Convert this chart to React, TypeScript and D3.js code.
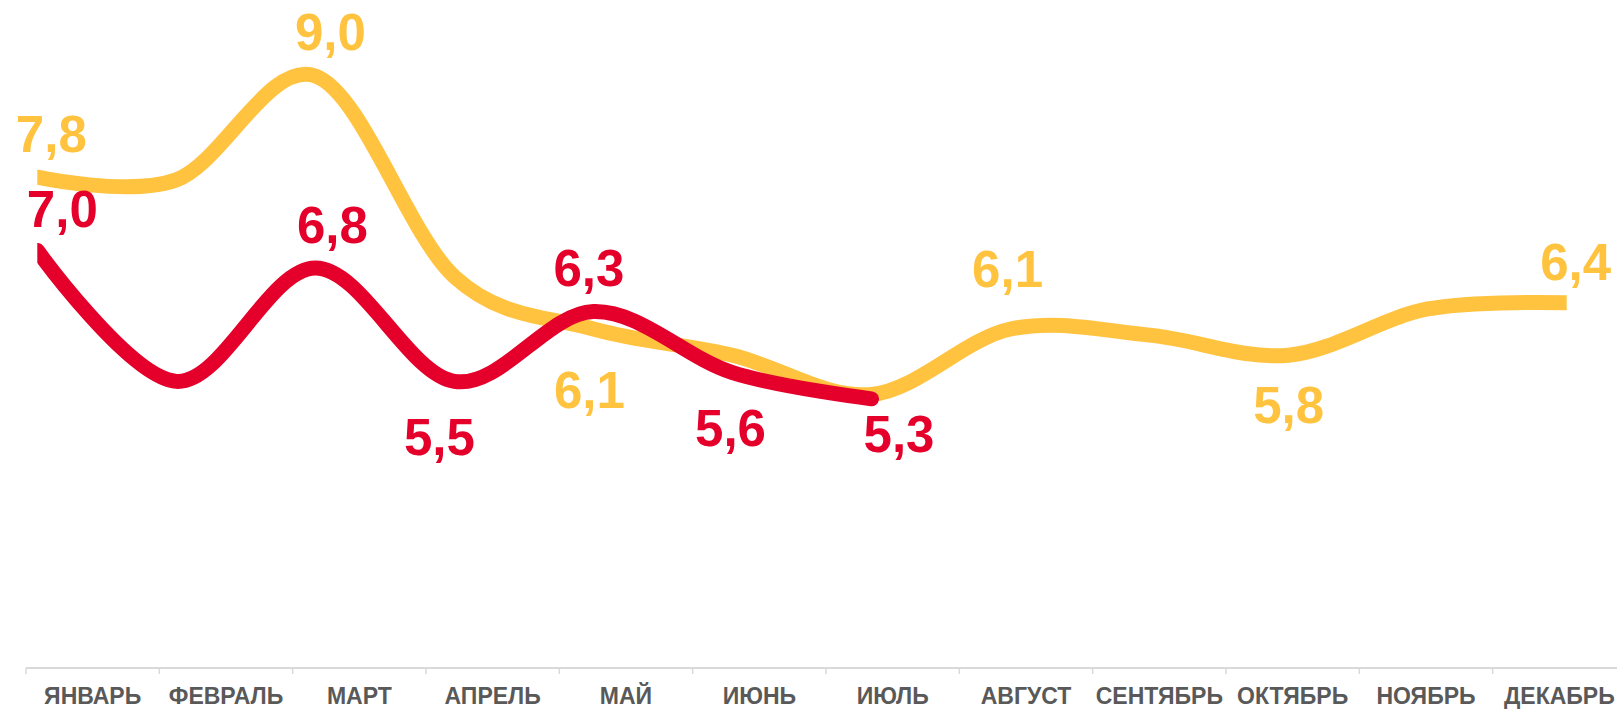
import React from "react";
import * as d3 from "d3";

// ---- data ----
const months = [
  "ЯНВАРЬ", "ФЕВРАЛЬ", "МАРТ", "АПРЕЛЬ", "МАЙ", "ИЮНЬ",
  "ИЮЛЬ", "АВГУСТ", "СЕНТЯБРЬ", "ОКТЯБРЬ", "НОЯБРЬ", "ДЕКАБРЬ",
];
const prevYear = [7.84, 7.81, 9.0, 6.7, 6.1, 5.8, 5.35, 6.1, 6.03, 5.8, 6.33, 6.4];
const curYear = [7.0, 5.5, 6.8, 5.5, 6.3, 5.6, 5.3];

// which points carry a value label (index into series)
const prevLabelIdx = [0, 2, 4, 7, 9, 11];
const curLabelIdx = [0, 2, 3, 4, 5, 6];

// ---- layout (label nudges, px) ----
const prevLabelOffsets: [number, number][] = [
  [14, -25.5], [15, -26], [-4, 79], [-3, -42], [0, 68], [9, -23],
];
const curLabelOffsets: [number, number][] = [
  [25, -24], [17, -25], [-15, 74], [-4.5, -26], [-2, 73], [27.5, 53],
];

const W = 1617;
const H = 709;
const YELLOW = "#FFC340";
const RED = "#E4002B";
const AXIS = "#D9D9D9";
const TEXT = "#595959";
const FONT = "'Liberation Sans', Arial, sans-serif";

const fmt = (v: number) => v.toFixed(1).replace(".", ",");

export default function App() {
  const xLine = d3.scalePoint<string>().domain(months).range([37.3, 1566.7]);
  const xAxis = d3.scaleBand<string>().domain(months).range([26, 1626]);
  const y = d3.scaleLinear().domain([5, 9]).range([425, 76]);

  const line = d3
    .line<number>()
    .x((_, i) => xLine(months[i]) as number)
    .y((d) => y(d))
    .curve(d3.curveCardinal.tension(0));

  const axisY = 668;
  const ticks = d3.range(months.length + 1).map((i) => 26 + i * xAxis.step());

  return (
    <svg
      width={W}
      height={H}
      style={{ position: "absolute", left: 0, top: 0, display: "block" }}
    >
      <defs>
        <clipPath id="plotClip">
          <rect x={37.3} y={0} width={1566.7 - 37.3} height={H} />
        </clipPath>
      </defs>
      <rect x={0} y={0} width={W} height={H} fill="#fff" />

      {/* axis */}
      <line x1={26} x2={W} y1={axisY} y2={axisY} stroke={AXIS} strokeWidth={2} />
      {ticks.map((t, i) => (
        <line key={i} x1={t} x2={t} y1={axisY} y2={axisY + 6} stroke={AXIS} strokeWidth={1.5} />
      ))}
      {months.map((m) => (
        <text
          key={m}
          x={(xAxis(m) as number) + xAxis.bandwidth() / 2}
          y={704}
          textAnchor="middle"
          fontFamily={FONT}
          fontWeight="bold"
          fontSize={23}
          fill={TEXT}
        >
          {m}
        </text>
      ))}

      {/* lines */}
      <g clipPath="url(#plotClip)">
        <path d={line(prevYear) || ""} fill="none" stroke={YELLOW} strokeWidth={15} strokeLinecap="round" />
        <path d={line(curYear) || ""} fill="none" stroke={RED} strokeWidth={15} strokeLinecap="round" />
      </g>

      {/* labels */}
      {prevLabelIdx.map((idx, k) => (
        <text
          key={"p" + idx}
          x={(xLine(months[idx]) as number) + prevLabelOffsets[k][0]}
          y={y(prevYear[idx]) + prevLabelOffsets[k][1]}
          textAnchor="middle"
          fontFamily={FONT}
          fontWeight="bold"
          fontSize={51}
          fill={YELLOW}
        >
          {fmt(prevYear[idx])}
        </text>
      ))}
      {curLabelIdx.map((idx, k) => (
        <text
          key={"c" + idx}
          x={(xLine(months[idx]) as number) + curLabelOffsets[k][0]}
          y={y(curYear[idx]) + curLabelOffsets[k][1]}
          textAnchor="middle"
          fontFamily={FONT}
          fontWeight="bold"
          fontSize={51}
          fill={RED}
        >
          {fmt(curYear[idx])}
        </text>
      ))}
    </svg>
  );
}
